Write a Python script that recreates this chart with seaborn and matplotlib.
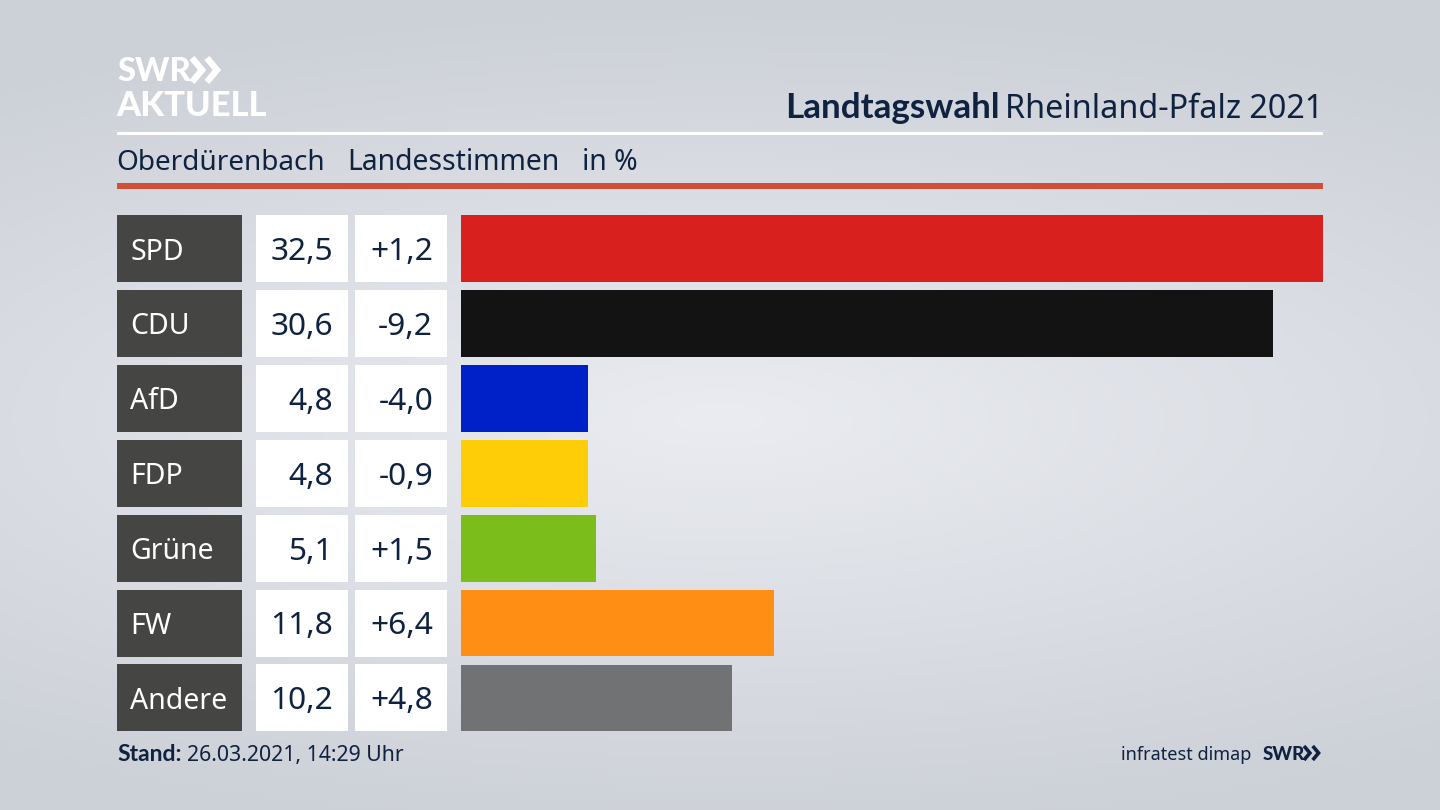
#!/usr/bin/env python
# -*- coding: utf-8 -*-

import numpy as np
import pandas as pd
import matplotlib
matplotlib.use("Agg")
import matplotlib.pyplot as plt
from matplotlib.patches import Rectangle
import seaborn as sns

# data
parties = ["SPD", "CDU", "AfD", "FDP", "Grüne", "FW", "Andere"]
values = [32.5, 30.6, 4.8, 4.8, 5.1, 11.8, 10.2]
value_labels = ["32,5", "30,6", "4,8", "4,8", "5,1", "11,8", "10,2"]
diff_labels = ["+1,2", "-9,2", "-4,0", "-0,9", "+1,5", "+6,4", "+4,8"]
bar_colors = ["#d8201f", "#131313", "#0021c8", "#ffcd08", "#7bbd1a", "#ff8e14", "#717274"]

NAVY = "#0f2240"
W, H = 1440, 810
BOLD = ["Lato", "DejaVu Sans"]

sns.set_theme(style="white")
plt.rcParams["font.family"] = ["Noto Sans", "DejaVu Sans"]

fig = plt.figure(figsize=(14.4, 8.1), dpi=100)

# background + everything that is placed in pixels
bg = fig.add_axes([0, 0, 1, 1])
bg.set_xlim(0, W)
bg.set_ylim(H, 0)
bg.axis("off")
yy, xx = np.mgrid[0:H:200j, 0:W:356j]
dist = np.sqrt(((xx - 720) / 1250) ** 2 + ((yy - 420) / 420) ** 2)
shade = np.clip(dist, 0, 1)
c_in = np.array([234, 236, 241]) / 255
c_out = np.array([204, 208, 215]) / 255
img = c_in[None, None, :] * (1 - shade[..., None]) + c_out[None, None, :] * shade[..., None]
bg.imshow(img, extent=(0, W, H, 0), aspect="auto", zorder=0)


def chevrons(x, y, h, color, lw):
    # the two arrows of the logo
    for dx in (0, h * 0.62):
        bg.plot([x + dx, x + dx + h * 0.42, x + dx], [y, y + h / 2, y + h],
                color=color, lw=lw, solid_joinstyle="miter", solid_capstyle="butt")


# logo
bg.text(117, 81, "SWR", color="white", fontsize=23.5, family=BOLD, fontweight="black", va="baseline", ha="left")
chevrons(192, 58, 24, "white", 4.6)
bg.text(116, 116, "AKTUELL", color="white", fontsize=24.8, family=BOLD, fontweight="black", va="baseline", ha="left")

# title
bg.text(785, 118, "Landtagswahl", color=NAVY, fontsize=25.2, family=BOLD, fontweight="bold", va="baseline", ha="left")
bg.text(1323, 118, "Rheinland-Pfalz 2021", color=NAVY, fontsize=23.3, va="baseline", ha="right")

bg.add_patch(Rectangle((117, 132), 1206, 3, color="white", lw=0))
bg.text(116, 170, "Oberdürenbach", color=NAVY, fontsize=20.1, va="baseline")
bg.text(347, 170, "Landesstimmen", color=NAVY, fontsize=20.4, va="baseline")
bg.text(582, 170, "in %", color=NAVY, fontsize=20.4, va="baseline")
bg.add_patch(Rectangle((117, 183), 1206, 6, color="#cf4f38", lw=0))

# table columns
for i, party in enumerate(parties):
    top = 215 + i * 74.9
    mid = top + 33.5
    bg.add_patch(Rectangle((117, top), 125, 67, color="#454543", lw=0))
    bg.add_patch(Rectangle((256, top), 92, 67, color="white", lw=0))
    bg.add_patch(Rectangle((355, top), 92, 67, color="white", lw=0))
    bg.text(130, mid, party, color="white", fontsize=20.5, va="center_baseline", ha="left")
    bg.text(333, mid, value_labels[i], color=NAVY, fontsize=22.8, va="center_baseline", ha="right")
    bg.text(433, mid, diff_labels[i], color=NAVY, fontsize=22.8, va="center_baseline", ha="right")

# footer
bg.text(117, 761, "Stand:", color=NAVY, fontsize=16.5, family=BOLD, fontweight="bold", va="baseline")
bg.text(187, 761, "26.03.2021, 14:29 Uhr", color=NAVY, fontsize=15.3, va="baseline")
bg.text(1251, 760, "infratest dimap", color=NAVY, fontsize=13, va="baseline", ha="right")
bg.text(1263, 760, "SWR", color=NAVY, fontsize=13.5, family=BOLD, fontweight="black", va="baseline", ha="left")
chevrons(1304, 746, 14, NAVY, 2.6)

# bars
df = pd.DataFrame({"partei": parties, "wert": values})
y_top = 248.5 - 74.9 / 2
y_bot = 698.0 + 74.9 / 2
ax = fig.add_axes([461 / W, 1 - y_bot / H, (1323 - 461) / W, (y_bot - y_top) / H])
ax.patch.set_alpha(0)
sns.barplot(data=df, y="partei", x="wert", hue="partei", palette=bar_colors, legend=False,
            width=66.8 / 74.9, saturation=1, linewidth=0, ax=ax)
ax.set_xlim(0, 32.5)
ax.set_ylim(6.5, -0.5)
ax.axis("off")

fig.savefig("out.png", dpi=100)
